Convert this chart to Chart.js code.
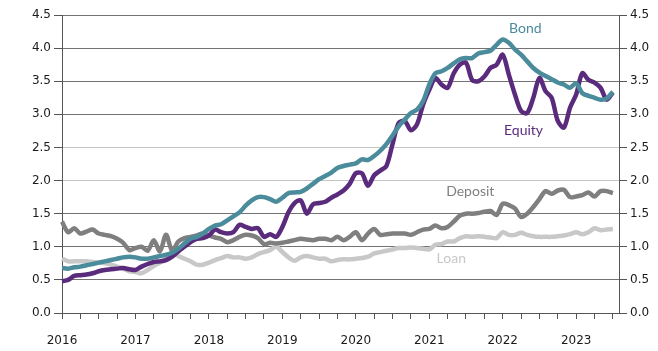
<!DOCTYPE html>
<html>
<head>
<meta charset="utf-8">
<script src="https://cdn.jsdelivr.net/npm/chart.js@4/dist/chart.umd.min.js"></script>
<style>
  html, body { margin: 0; padding: 0; background: #fff; }
  #wrap { width: 658px; height: 351px; }
</style>
</head>
<body>
<div id="wrap"><canvas id="chart" width="658" height="351"></canvas></div>
<script>
// monthly labels, Jan 2016 .. Aug 2023 (last one has no data, just axis room)
const months = [];
for (let y = 2016; y <= 2023; y++) {
  for (let m = 1; m <= 12; m++) {
    if (y === 2023 && m > 8) break;
    months.push(y + '-' + String(m).padStart(2, '0'));
  }
}

const yTicks = [0, 0.5, 1, 1.5, 2, 2.5, 3, 3.5, 4, 4.5];

const equity = [
  0.48, 0.50, 0.56, 0.57, 0.58, 0.60, 0.63, 0.65, 0.66, 0.67, 0.68, 0.66,
  0.65, 0.70, 0.74, 0.77, 0.78, 0.80, 0.85, 0.93, 1.00, 1.07, 1.12, 1.13,
  1.17, 1.26, 1.22, 1.20, 1.22, 1.33, 1.30, 1.27, 1.28, 1.15, 1.19, 1.15,
  1.30, 1.52, 1.66, 1.70, 1.50, 1.64, 1.66, 1.68, 1.74, 1.79, 1.85, 1.95,
  2.11, 2.11, 1.92, 2.08, 2.15, 2.22, 2.55, 2.87, 2.90, 2.76, 2.85, 3.15,
  3.37, 3.55, 3.45, 3.40, 3.62, 3.75, 3.78, 3.52, 3.50, 3.57, 3.70, 3.75,
  3.90, 3.60, 3.30, 3.05, 3.02, 3.25, 3.55, 3.35, 3.25, 2.90, 2.80, 3.10,
  3.30, 3.62, 3.52, 3.48, 3.40, 3.22, 3.33
];

const bond = [
  0.68, 0.67, 0.69, 0.70, 0.72, 0.74, 0.76, 0.78, 0.80, 0.82, 0.84, 0.85,
  0.84, 0.82, 0.82, 0.84, 0.86, 0.88, 0.91, 0.97, 1.05, 1.12, 1.15, 1.20,
  1.27, 1.32, 1.34, 1.40, 1.46, 1.52, 1.62, 1.70, 1.75, 1.75, 1.72, 1.68,
  1.74, 1.81, 1.82, 1.83, 1.88, 1.95, 2.02, 2.07, 2.12, 2.19, 2.22, 2.24,
  2.26, 2.32, 2.31, 2.37, 2.45, 2.55, 2.68, 2.82, 2.92, 3.02, 3.07, 3.20,
  3.45, 3.62, 3.65, 3.70, 3.77, 3.83, 3.85, 3.85, 3.92, 3.94, 3.96, 4.05,
  4.13, 4.08, 3.98, 3.90, 3.80, 3.70, 3.63, 3.58, 3.53, 3.48, 3.45, 3.40,
  3.47, 3.32, 3.28, 3.25, 3.22, 3.24, 3.34
];

const deposit = [
  1.38, 1.22, 1.28, 1.20, 1.23, 1.26, 1.20, 1.18, 1.16, 1.12, 1.06, 0.95,
  0.98, 1.00, 0.94, 1.10, 0.93, 1.18, 0.94, 1.08, 1.13, 1.15, 1.17, 1.20,
  1.17, 1.14, 1.12, 1.07, 1.10, 1.15, 1.18, 1.17, 1.13, 1.04, 1.06, 1.05,
  1.06, 1.08, 1.10, 1.12, 1.11, 1.10, 1.12, 1.12, 1.10, 1.15, 1.10, 1.15,
  1.22, 1.10, 1.20, 1.27, 1.18, 1.19, 1.20, 1.20, 1.20, 1.18, 1.22, 1.26,
  1.27, 1.32, 1.28, 1.30, 1.38, 1.47, 1.50, 1.50, 1.51, 1.53, 1.54, 1.48,
  1.65, 1.63, 1.58, 1.45, 1.50, 1.60, 1.72, 1.84, 1.80, 1.85, 1.86, 1.75,
  1.76, 1.78, 1.82, 1.76, 1.84, 1.84, 1.81
];

const loan = [
  0.82, 0.78, 0.78, 0.78, 0.78, 0.77, 0.76, 0.75, 0.73, 0.70, 0.67, 0.63,
  0.62, 0.60, 0.65, 0.71, 0.76, 0.82, 0.89, 0.86, 0.82, 0.78, 0.73, 0.73,
  0.76, 0.80, 0.83, 0.86, 0.84, 0.84, 0.82, 0.84, 0.89, 0.92, 0.95, 1.00,
  0.92, 0.84, 0.79, 0.84, 0.86, 0.84, 0.82, 0.82, 0.78, 0.80, 0.81, 0.81,
  0.82, 0.83, 0.85, 0.90, 0.92, 0.94, 0.96, 0.98, 0.98, 0.99, 0.98, 0.97,
  0.96, 1.03, 1.04, 1.08, 1.08, 1.13, 1.16, 1.15, 1.16, 1.15, 1.14, 1.13,
  1.22, 1.18, 1.18, 1.21, 1.18, 1.16, 1.15, 1.15, 1.15, 1.16, 1.17, 1.19,
  1.22, 1.19, 1.22, 1.28, 1.25, 1.26, 1.27
];

const colors = {
  Equity: '#5a2a7c',
  Bond: '#4b8c9c',
  Deposit: '#7f7f7f',
  Loan: '#c8c8c8'
};

// series name labels placed in data coordinates (month index, value)
const seriesLabels = [
  { text: 'Bond', x: 75.7, y: 4.30 },
  { text: 'Equity', x: 75.4, y: 2.75 },
  { text: 'Deposit', x: 66.7, y: 1.83 },
  { text: 'Loan', x: 63.6, y: 0.83 }
];

const labelPlugin = {
  id: 'seriesLabels',
  afterDatasetsDraw(chart) {
    const ctx = chart.ctx;
    const xs = chart.scales.x, ys = chart.scales.y;
    ctx.save();
    ctx.font = '14px Lato';
    ctx.textAlign = 'center';
    ctx.textBaseline = 'middle';
    seriesLabels.forEach(function (l) {
      ctx.fillStyle = colors[l.text];
      ctx.fillText(l.text, xs.getPixelForValue(l.x), ys.getPixelForValue(l.y));
    });
    ctx.restore();
  }
};

function line(name, data) {
  return {
    label: name,
    data: data,
    borderColor: colors[name],
    backgroundColor: colors[name],
    borderWidth: 4.5,
    pointRadius: 0,
    tension: 0.3,
    fill: false
  };
}

const tickFont = { family: 'DejaVu Sans', size: 12 };
const axisColor = '#555';

function yAxis(pos) {
  return {
    position: pos,
    min: 0,
    max: 4.5,
    afterBuildTicks(s) { s.ticks = yTicks.map(v => ({ value: v })); },
    ticks: {
      font: tickFont,
      color: '#1a1a1a',
      padding: 3,
      callback: v => Number(v).toFixed(1)
    },
    grid: {
      drawOnChartArea: pos === 'left',
      tickLength: 8,
      tickColor: axisColor,
      color: c => (c.tick && (c.tick.value === 2 || c.tick.value === 2.5)) ? '#c4c4c4' : '#737373'
    },
    border: { color: axisColor },
    afterFit(s) { s.width = pos === 'left' ? 62 : 39; }
  };
}

new Chart(document.getElementById('chart'), {
  type: 'line',
  data: {
    labels: months,
    datasets: [
      line('Bond', bond),
      line('Equity', equity),
      line('Deposit', deposit),
      line('Loan', loan)
    ]
  },
  options: {
    responsive: false,
    animation: false,
    devicePixelRatio: 1,
    layout: { padding: { top: 15, left: 0, right: 0, bottom: 0 } },
    plugins: {
      legend: { display: false },
      tooltip: { enabled: false }
    },
    scales: {
      x: {
        type: 'category',
        offset: false,
        ticks: {
          autoSkip: false,
          maxRotation: 0,
          minRotation: 0,
          padding: 15,
          font: tickFont,
          color: '#1a1a1a',
          callback: function (v, i) {
            const l = months[i];
            return l.endsWith('-01') ? l.slice(0, 4) : '';
          }
        },
        grid: {
          drawOnChartArea: false,
          tickLength: 6,
          tickColor: c => (c.index % 3 === 0) ? axisColor : 'rgba(0,0,0,0)'
        },
        border: { color: axisColor },
        afterFit(s) { s.height = 38; }
      },
      y: yAxis('left'),
      y2: yAxis('right')
    }
  },
  plugins: [labelPlugin]
});
</script>
</body>
</html>
